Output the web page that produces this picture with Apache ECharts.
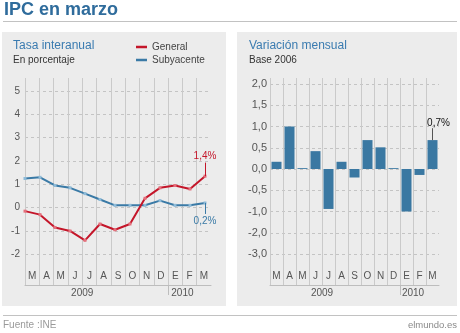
<!DOCTYPE html>
<html><head><meta charset="utf-8">
<script src="https://cdn.jsdelivr.net/npm/echarts@6/dist/echarts.min.js"></script>
<style>html,body{margin:0;padding:0;background:#fff}#c{width:460px;height:333px}</style>
</head><body><div id="c"></div>
<script>
// ---- data ----
const months = ['M','A','M','J','J','A','S','O','N','D','E','F','M'];
const general = [-0.15, -0.3, -0.85, -1.0, -1.4, -0.7, -0.95, -0.7, 0.4, 0.85, 0.95, 0.8, 1.35];
const subyacente = [1.25, 1.3, 0.95, 0.85, 0.6, 0.35, 0.1, 0.1, 0.1, 0.3, 0.1, 0.1, 0.2];
const mensual = [0.17, 1.0, 0.02, 0.42, -0.94, 0.17, -0.2, 0.68, 0.51, 0.02, -1.0, -0.14, 0.68];
const leftTicks = [-2, -1, 0, 1, 2, 3, 4, 5];
const rightTickValues = [-2, -1.5, -1, -0.5, 0, 0.5, 1, 1.5, 2];
const rightTickLabels = ['-3,0', '-2,0', '-1,0', '-0,5', '0,0', '0,5', '1,0', '1,5', '2,0'];
const years = ['2009', '2010'];
const yearLabelBoundary = [4, 11];   // boundary index under which the year label sits
const yearSeparatorBoundary = 10;    // boundary between D and E
const endLabels = {general: '1,4%', subyacente: '0,2%', mensual: '0,7%'};

// ---- styles ----
const FONT = '"Liberation Sans", Arial, Helvetica, sans-serif';
const RED = '#c4162a';
const BLUE = '#3a7aa6';
const BAR = '#3a78a2';
const GRIDV = '#cacaca';
const GRIDH = '#c4c4c4';
const LABEL = '#555';
const TITLEBLUE = '#2f6c9c';
const SUBBLUE = '#3a7bb0';

const yearBoundaries = [];
for (let i = 0; i <= months.length; i++) {
  const k = yearLabelBoundary.indexOf(i);
  yearBoundaries.push(k >= 0 ? years[k] : ' '.repeat(i + 1));
}
// vertical lines at every band boundary except the closing one at the right edge
const vLineColors = months.map(() => GRIDV).concat(['rgba(0,0,0,0)']);

const frameX = (grid) => ({
  gridIndex: grid, type: 'category', position: 'bottom', data: months, boundaryGap: true,
  axisLine: {show: true, lineStyle: {color: '#bdbdbd', width: 1}},
  axisTick: {show: false},
  axisLabel: {inside: true, margin: 4, interval: 0, fontSize: 10, color: LABEL, fontFamily: FONT},
  splitLine: {show: true, interval: 0, lineStyle: {color: vLineColors, width: 1}}
});
const yearX = (grid) => ({
  gridIndex: grid, type: 'category', position: 'bottom', offset: 0, data: yearBoundaries, boundaryGap: false,
  axisLine: {show: false},
  axisTick: {show: true, interval: (i) => i === yearSeparatorBoundary, length: 10, lineStyle: {color: '#bdbdbd'}},
  axisLabel: {show: true, interval: 0, margin: 3, fontSize: 10, color: LABEL, fontFamily: FONT},
  splitLine: {show: false}
});
const hiddenY = (grid, min, max) => ({gridIndex: grid, type: 'value', show: false, min: min, max: max});

const lastLabel = (arr, text, color, pos, dist, offset) => arr.map((v, i) => i === arr.length - 1 ? {
  value: v,
  label: {show: true, position: pos, distance: dist, offset: offset || [0, 0], formatter: text, color: color, fontSize: 10, fontFamily: FONT}
} : v);

const chart = echarts.init(document.getElementById('c'), null, {renderer: 'canvas'});
const option = {
  animation: false,
  backgroundColor: '#ffffff',
  textStyle: {fontFamily: FONT},
  graphic: [
    {type: 'rect', z: -10, shape: {x: 2, y: 32, width: 224, height: 274}, style: {fill: '#ececec'}},
    {type: 'rect', z: -10, shape: {x: 237, y: 32, width: 220, height: 274}, style: {fill: '#ececec'}},
    {type: 'line', shape: {x1: 3, y1: 21.5, x2: 457, y2: 21.5}, style: {stroke: '#c2c2c2', lineWidth: 1}},
    {type: 'line', shape: {x1: 3, y1: 315.5, x2: 457, y2: 315.5}, style: {stroke: '#c2c2c2', lineWidth: 1}},
    {type: 'text', x: 4, y: 10.5, style: {text: 'IPC en marzo', fill: TITLEBLUE, fontSize: 18, fontWeight: 'bold', fontFamily: FONT, verticalAlign: 'middle'}},
    {type: 'text', x: 13, y: 45.5, style: {text: 'Tasa interanual', fill: SUBBLUE, fontSize: 12, fontFamily: FONT, verticalAlign: 'middle'}},
    {type: 'text', x: 13, y: 60, style: {text: 'En porcentaje', fill: '#333', fontSize: 10, fontFamily: FONT, verticalAlign: 'middle'}},
    {type: 'text', x: 249, y: 46, style: {text: 'Variación mensual', fill: SUBBLUE, fontSize: 12, fontFamily: FONT, verticalAlign: 'middle'}},
    {type: 'text', x: 249, y: 60, style: {text: 'Base 2006', fill: '#333', fontSize: 10, fontFamily: FONT, verticalAlign: 'middle'}},
    {type: 'text', x: 3, y: 325.5, style: {text: 'Fuente :INE', fill: '#9a9a9a', fontSize: 10, fontFamily: FONT, verticalAlign: 'middle'}},
    {type: 'text', x: 457, y: 325, style: {text: 'elmundo.es', fill: '#8a8a8a', fontSize: 9.5, fontFamily: FONT, align: 'right', verticalAlign: 'middle'}}
  ],
  legend: {
    data: [{name: 'General', itemStyle: {color: RED}}, {name: 'Subyacente', itemStyle: {color: BLUE}}],
    orient: 'vertical', left: 136, top: 42,
    icon: 'rect', itemWidth: 11, itemHeight: 2.5, itemGap: 3, padding: 0,
    textStyle: {fontSize: 10, color: '#444', fontFamily: FONT}
  },
  grid: [
    {left: 25, top: 78, width: 186, height: 207, outerBoundsMode: 'none'},
    {left: 25, top: 91, width: 186, height: 163.3, outerBoundsMode: 'none'},
    {left: 25, top: 91, width: 180, height: 163.3, outerBoundsMode: 'none'},
    {left: 270, top: 78, width: 169, height: 207, outerBoundsMode: 'none'},
    {left: 270, top: 84, width: 169, height: 170, outerBoundsMode: 'none'}
  ],
  xAxis: [
    frameX(0),
    yearX(0),
    {gridIndex: 1, type: 'category', data: months, show: false},
    {gridIndex: 2, type: 'category', data: months, boundaryGap: false, show: false},
    frameX(3),
    yearX(3),
    {gridIndex: 4, type: 'category', data: months, boundaryGap: true, show: false}
  ],
  yAxis: [
    hiddenY(0, 0, 1),
    {
      gridIndex: 1, type: 'value', min: leftTicks[0], max: leftTicks[leftTicks.length - 1], interval: 1,
      axisLine: {show: false}, axisTick: {show: false},
      axisLabel: {margin: 5, fontSize: 10, color: LABEL, fontFamily: FONT, formatter: (v) => String(v)},
      splitLine: {show: true, lineStyle: {color: GRIDH, type: [3, 3], width: 1}}
    },
    hiddenY(2, leftTicks[0], leftTicks[leftTicks.length - 1]),
    hiddenY(3, 0, 1),
    {
      gridIndex: 4, type: 'value', min: rightTickValues[0], max: rightTickValues[rightTickValues.length - 1], interval: 0.5,
      axisLine: {show: false}, axisTick: {show: false},
      axisLabel: {margin: 3, fontSize: 11, color: LABEL, fontFamily: FONT,
        formatter: (v) => { const k = rightTickValues.indexOf(Math.round(v * 10) / 10); return k >= 0 ? rightTickLabels[k] : ''; }},
      splitLine: {show: true, lineStyle: {color: GRIDH, type: [3, 3], width: 1}}
    }
  ],
  series: [
    {
      name: 'General', type: 'line', xAxisIndex: 3, yAxisIndex: 2,
      data: lastLabel(general, endLabels.general, RED, 'top', 13),
      color: RED, lineStyle: {width: 2, color: RED},
      symbol: 'rect', symbolSize: 3, showAllSymbol: true, itemStyle: {color: '#e4707c'}, z: 3,
      markLine: {silent: true, symbol: 'none', animation: false, label: {show: false},
        lineStyle: {color: RED, width: 1, type: 'solid'},
        data: [[{coord: [general.length - 1, general[general.length - 1]]}, {coord: [general.length - 1, general[general.length - 1] + 0.58]}]]}
    },
    {
      name: 'Subyacente', type: 'line', xAxisIndex: 3, yAxisIndex: 2,
      data: lastLabel(subyacente, endLabels.subyacente, BLUE, 'bottom', 12),
      color: BLUE, lineStyle: {width: 2, color: BLUE},
      symbol: 'rect', symbolSize: 3, showAllSymbol: true, itemStyle: {color: '#8fbbd8'}, z: 2,
      markLine: {silent: true, symbol: 'none', animation: false, label: {show: false},
        lineStyle: {color: BLUE, width: 1, type: 'solid'},
        data: [[{coord: [subyacente.length - 1, subyacente[subyacente.length - 1]]}, {coord: [subyacente.length - 1, subyacente[subyacente.length - 1] - 0.47]}]]}
    },
    {
      name: 'Mensual', type: 'bar', xAxisIndex: 6, yAxisIndex: 4,
      data: lastLabel(mensual, endLabels.mensual, '#111', 'top', 12, [6, 0]),
      barWidth: 10, itemStyle: {color: BAR},
      markLine: {silent: true, symbol: 'none', animation: false, label: {show: false},
        lineStyle: {color: '#555', width: 1, type: 'solid'},
        data: [[{coord: [mensual.length - 1, mensual[mensual.length - 1]]}, {coord: [mensual.length - 1, mensual[mensual.length - 1] + 0.28]}]]}
    }
  ]
};
chart.setOption(option);
</script></body></html>
